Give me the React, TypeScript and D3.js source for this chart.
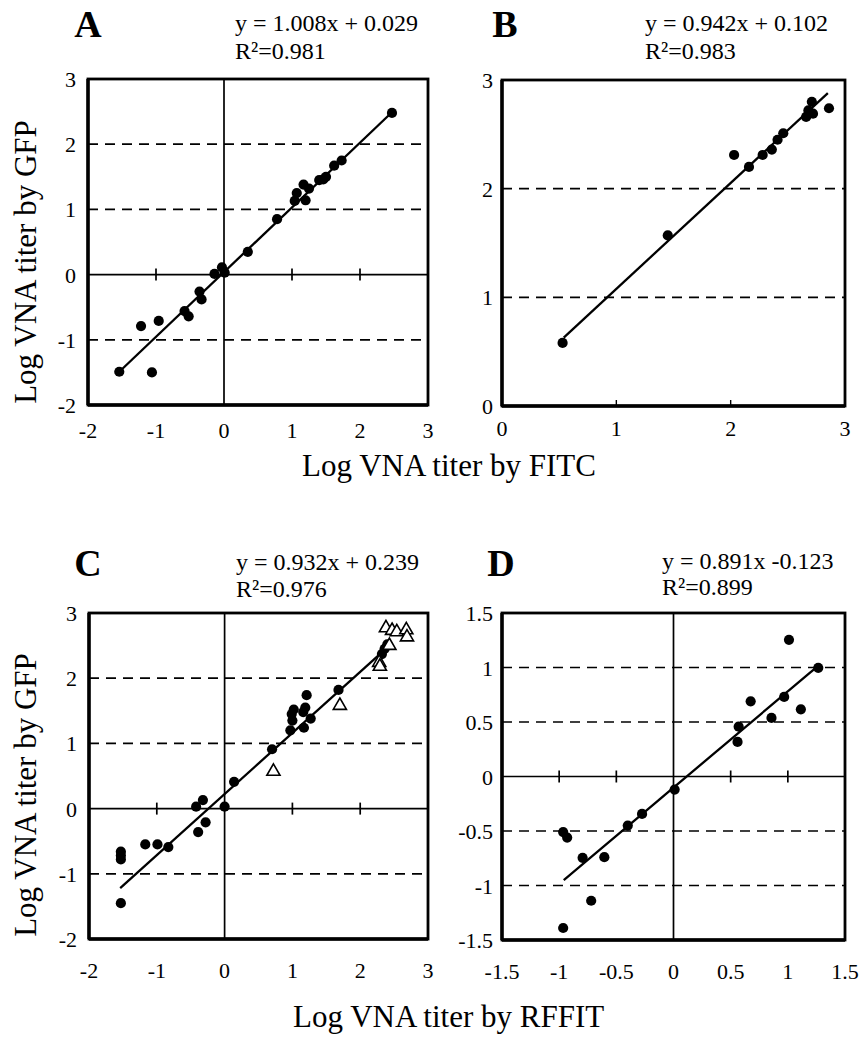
import React from "react";
import * as d3 from "d3";

const FONT = "'Liberation Serif', 'Times New Roman', Times, serif";

// ---------- DATA ----------
const ticksAC = [-2, -1, 0, 1, 2, 3];
const ticksB = [0, 1, 2, 3];
const ticksD = [-1.5, -1, -0.5, 0, 0.5, 1, 1.5];

const dashedAC = [2, 1, -1];
const dashedB = [2, 1];
const dashedD = [1, 0.5, -0.5, -1];

const zeroTicksAC = [-1, 1, 2];
const zeroTicksD = [-1, -0.5, 0.5, 1];
const bottomTicksB = [1, 2];

const aPoints: [number, number][] = [
  [-1.54, -1.49], [-1.22, -0.79], [-1.06, -1.5], [-0.96, -0.71], [-0.58, -0.56],
  [-0.52, -0.64], [-0.36, -0.26], [-0.33, -0.38], [-0.14, 0.01], [-0.03, 0.11],
  [0.01, 0.03], [0.35, 0.35], [0.78, 0.85], [1.04, 1.13], [1.07, 1.25],
  [1.17, 1.38], [1.2, 1.14], [1.25, 1.32], [1.4, 1.45], [1.46, 1.46],
  [1.5, 1.5], [1.62, 1.67], [1.73, 1.75], [2.47, 2.48],
];
const aLine: [number, number][] = [[-1.54, -1.49], [2.47, 2.49]];

const bPoints: [number, number][] = [
  [0.53, 0.58], [1.45, 1.57], [2.03, 2.31], [2.16, 2.2], [2.28, 2.31],
  [2.36, 2.36], [2.41, 2.45], [2.46, 2.51], [2.66, 2.66], [2.68, 2.72],
  [2.71, 2.8], [2.72, 2.69], [2.86, 2.74],
];
const bLine: [number, number][] = [[0.54, 0.63], [2.85, 2.88]];

const cCircles: [number, number][] = [
  [-1.53, -0.66], [-1.53, -0.72], [-1.53, -0.78], [-1.53, -1.45], [-1.17, -0.55],
  [-0.99, -0.55], [-0.83, -0.59], [-0.42, 0.03], [-0.32, 0.13], [-0.39, -0.36],
  [-0.28, -0.21], [0, 0.03], [0.14, 0.41], [0.7, 0.91], [0.97, 1.2],
  [1.0, 1.35], [0.99, 1.45], [1.02, 1.52], [1.16, 1.48], [1.19, 1.55],
  [1.17, 1.24], [1.21, 1.74], [1.27, 1.38], [1.68, 1.82], [2.32, 2.37],
  [2.36, 2.45], [2.4, 2.52],
];
const cTriangles: [number, number][] = [
  [0.72, 0.57], [1.7, 1.58], [2.28, 2.24], [2.29, 2.18], [2.38, 2.77],
  [2.47, 2.73], [2.54, 2.71], [2.68, 2.74], [2.69, 2.63], [2.43, 2.5],
];
const cLine: [number, number][] = [[-1.54, -1.22], [2.45, 2.52]];

const dPoints: [number, number][] = [
  [-0.965, -0.51], [-0.93, -0.56], [-0.795, -0.746], [-0.72, -1.14], [-0.965, -1.39],
  [-0.605, -0.74], [-0.4, -0.45], [-0.275, -0.343], [0.01, -0.12], [0.56, 0.317],
  [0.57, 0.457], [0.675, 0.69], [0.857, 0.537], [0.968, 0.73], [1.01, 1.254],
  [1.114, 0.616], [1.266, 0.997],
];
const dLine: [number, number][] = [[-0.96, -0.95], [1.27, 1.02]];

// ---------- PANEL ----------
type PanelProps = {
  left: number; right: number; top: number; bottom: number;
  domain: [number, number];
  ticks: number[];
  dashed: number[];
  zeroLines: boolean;
  zeroTicks: number[];
  bottomTicks?: number[];
  circles: [number, number][];
  triangles?: [number, number][];
  line: [number, number][];
  letter: string; letterX: number; letterY: number;
  eq: string; r2: string; eqX: number; eqY: number; r2Y: number;
  yLabelRight: number; xLabelY: number;
};

function Panel(p: PanelProps) {
  const x = d3.scaleLinear().domain(p.domain).range([p.left, p.right]);
  const y = d3.scaleLinear().domain(p.domain).range([p.bottom, p.top]);
  const lineGen = d3.line<[number, number]>().x((d) => x(d[0])).y((d) => y(d[1]));
  const tri = d3.symbol().type(d3.symbolTriangle).size(75);
  return (
    <g>
      {p.dashed.map((v) => (
        <line key={"d" + v} x1={p.left} x2={p.right} y1={y(v)} y2={y(v)}
          stroke="#000" strokeWidth={1.7} strokeDasharray="10,7" />
      ))}
      {p.zeroLines && (
        <g>
          <line x1={p.left} x2={p.right} y1={y(0)} y2={y(0)} stroke="#000" strokeWidth={1.7} />
          <line x1={x(0)} x2={x(0)} y1={p.top} y2={p.bottom} stroke="#000" strokeWidth={1.7} />
          {p.zeroTicks.map((v) => (
            <line key={"zt" + v} x1={x(v)} x2={x(v)} y1={y(0) - 6} y2={y(0) + 6} stroke="#000" strokeWidth={1.7} />
          ))}
        </g>
      )}
      {(p.bottomTicks || []).map((v) => (
        <line key={"bt" + v} x1={x(v)} x2={x(v)} y1={p.bottom} y2={p.bottom - 6} stroke="#000" strokeWidth={1.4} />
      ))}
      <rect x={p.left} y={p.top} width={p.right - p.left} height={p.bottom - p.top}
        fill="none" stroke="#000" strokeWidth={2.8} />
      <line x1={p.left} x2={p.left} y1={p.top} y2={p.bottom} stroke="#000" strokeWidth={3.4} />
      <line x1={p.left} x2={p.right} y1={p.bottom} y2={p.bottom} stroke="#000" strokeWidth={3.4} />
      <path d={lineGen(p.line) || ""} fill="none" stroke="#000" strokeWidth={2.3} />
      {p.circles.map((d, i) => (
        <circle key={"c" + i} cx={x(d[0])} cy={y(d[1])} r={5.1} fill="#000" />
      ))}
      {(p.triangles || []).map((d, i) => (
        <path key={"t" + i} d={tri() || ""} transform={`translate(${x(d[0])},${y(d[1])})`}
          fill="#fff" stroke="#000" strokeWidth={1.6} />
      ))}
      {p.ticks.map((v) => (
        <text key={"yl" + v} x={p.yLabelRight} y={y(v) + 8} textAnchor="end"
          fontFamily={FONT} fontSize={22}>{String(v)}</text>
      ))}
      {p.ticks.map((v) => (
        <text key={"xl" + v} x={x(v)} y={p.xLabelY} textAnchor="middle"
          fontFamily={FONT} fontSize={22}>{String(v)}</text>
      ))}
      <text x={p.letterX} y={p.letterY} textAnchor="middle" fontFamily={FONT}
        fontWeight="bold" fontSize={38}>{p.letter}</text>
      <text x={p.eqX} y={p.eqY} fontFamily={FONT} fontSize={24}>{p.eq}</text>
      <text x={p.eqX} y={p.r2Y} fontFamily={FONT} fontSize={24}>{p.r2}</text>
    </g>
  );
}

export default function App() {
  return (
    <svg width={860} height={1039} style={{ display: "block", position: "absolute", left: 0, top: 0, background: "#fff" }}>
      <rect x={0} y={0} width={860} height={1039} fill="#fff" />
      <Panel left={88} right={428} top={79} bottom={405} domain={[-2, 3]}
        ticks={ticksAC} dashed={dashedAC} zeroLines zeroTicks={zeroTicksAC}
        circles={aPoints} line={aLine}
        letter="A" letterX={88} letterY={37}
        eq="y = 1.008x + 0.029" r2="R²=0.981" eqX={235} eqY={31} r2Y={59}
        yLabelRight={76} xLabelY={438} />
      <Panel left={502} right={845} top={80} bottom={406} domain={[0, 3]}
        ticks={ticksB} dashed={dashedB} zeroLines={false} zeroTicks={[]} bottomTicks={bottomTicksB}
        circles={bPoints} line={bLine}
        letter="B" letterX={505} letterY={37}
        eq="y = 0.942x + 0.102" r2="R²=0.983" eqX={645} eqY={31} r2Y={59}
        yLabelRight={493} xLabelY={436} />
      <Panel left={89} right={428} top={613} bottom={939} domain={[-2, 3]}
        ticks={ticksAC} dashed={dashedAC} zeroLines zeroTicks={zeroTicksAC}
        circles={cCircles} triangles={cTriangles} line={cLine}
        letter="C" letterX={88} letterY={576}
        eq="y = 0.932x + 0.239" r2="R²=0.976" eqX={236} eqY={570} r2Y={597}
        yLabelRight={77} xLabelY={978} />
      <Panel left={502} right={845} top={613} bottom={940} domain={[-1.5, 1.5]}
        ticks={ticksD} dashed={dashedD} zeroLines zeroTicks={zeroTicksD}
        circles={dPoints} line={dLine}
        letter="D" letterX={501} letterY={576}
        eq="y = 0.891x -0.123" r2="R²=0.899" eqX={662} eqY={569} r2Y={595}
        yLabelRight={493} xLabelY={979} />
      <text x={302} y={476} fontFamily={FONT} fontSize={31}>Log VNA titer by FITC</text>
      <text x={293} y={1027} fontFamily={FONT} fontSize={31}>Log VNA titer by RFFIT</text>
      <text transform="translate(36,262) rotate(-90)" textAnchor="middle" fontFamily={FONT} fontSize={31}>Log VNA titer by GFP</text>
      <text transform="translate(36,795) rotate(-90)" textAnchor="middle" fontFamily={FONT} fontSize={31}>Log VNA titer by GFP</text>
    </svg>
  );
}
